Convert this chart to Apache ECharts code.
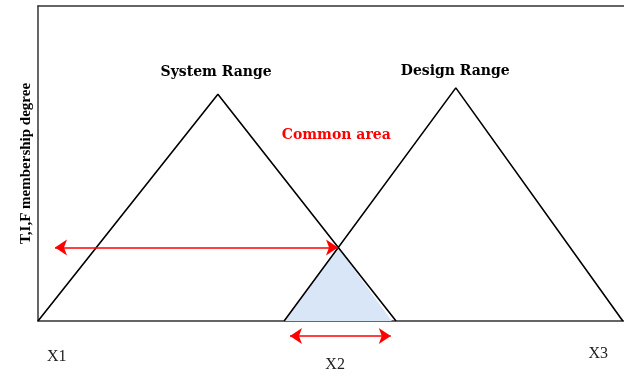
<!DOCTYPE html>
<html>
<head>
<meta charset="utf-8">
<script src="https://cdn.jsdelivr.net/npm/echarts@6/dist/echarts.min.js"></script>
<style>
  html, body { margin: 0; padding: 0; background: #fff; }
  #main { width: 624px; height: 376px; }
</style>
</head>
<body>
<div id="main"></div>
<script>
// triangle vertices, x on 0..100, membership on 0..1
const systemRange = [[0, 0], [30.7, 0.72], [61.1, 0]];
const designRange = [[42.0, 0], [71.3, 0.74], [99.8, 0]];
const commonArea = [[42.0, 0], [51.2, 0.233], [60.4, 0]];
const crossArrow = [[2.9, 0.233], [51.2, 0.233]];
const spanArrow = [[43.0, -0.048], [60.2, -0.048]];

const rangeLabels = [
  { name: 'System Range', value: [30.4, 0.79] },
  { name: 'Design Range', value: [71.2, 0.794] }
];
const areaLabel = [{ name: 'Common area', value: [50.9, 0.59] }];
const xLabels = [
  { name: 'X1', value: [3.2, -0.114] },
  { name: 'X2', value: [50.7, -0.14] },
  { name: 'X3', value: [95.6, -0.105] }
];

const myChart = echarts.init(document.getElementById('main'));

const triangle = (data) => ({
  type: 'line',
  data: data,
  symbol: 'none',
  silent: true,
  lineStyle: { color: '#000', width: 1.6 },
  z: 3
});

const arrow = (data) => ({
  type: 'lines',
  coordinateSystem: 'cartesian2d',
  clip: false,
  silent: true,
  symbol: ['arrow', 'arrow'],
  symbolSize: 12,
  lineStyle: { color: '#f00', width: 1.5, opacity: 1 },
  data: [{ coords: data }],
  z: 4
});

const textMarks = (data, font) => ({
  type: 'scatter',
  data: data,
  symbolSize: 0,
  clip: false,
  silent: true,
  itemStyle: { opacity: 1 },
  label: Object.assign({
    show: true,
    position: 'inside',
    formatter: '{b}',
    textBorderWidth: 0,
    textBorderColor: 'transparent'
  }, font),
  z: 5
});

const frameAxis = (position) => ({
  type: 'value',
  position: position,
  min: 0,
  max: 100,
  axisLine: { show: true, onZero: false, lineStyle: { color: '#333', width: 1.5 } },
  axisTick: { show: false },
  axisLabel: { show: false },
  splitLine: { show: false }
});

myChart.setOption({
  animation: false,
  grid: {
    left: 38,
    right: 0,
    top: 6,
    bottom: 55
  },
  xAxis: [frameAxis('bottom'), frameAxis('top')],
  yAxis: {
    type: 'value',
    min: 0,
    max: 1,
    name: 'T,I,F membership degree',
    nameLocation: 'middle',
    nameRotate: 90,
    nameGap: 4,
    nameTextStyle: {
      fontFamily: 'Liberation Serif',
      fontWeight: 'bold',
      fontSize: 15,
      color: '#000'
    },
    axisLine: { show: true, onZero: false, lineStyle: { color: '#333', width: 1.5 } },
    axisTick: { show: false },
    axisLabel: { show: false },
    splitLine: { show: false }
  },
  series: [
    {
      type: 'line',
      data: commonArea,
      symbol: 'none',
      silent: true,
      lineStyle: { width: 0 },
      areaStyle: { color: '#d9e6f8', opacity: 1, origin: 'start' },
      z: 2
    },
    triangle(systemRange),
    triangle(designRange),
    arrow(crossArrow),
    arrow(spanArrow),
    textMarks(rangeLabels, {
      fontFamily: 'DejaVu Serif', fontWeight: 'bold', fontSize: 14, color: '#000'
    }),
    textMarks(areaLabel, {
      fontFamily: 'DejaVu Serif', fontWeight: 'bold', fontSize: 14, color: '#ff0000'
    }),
    textMarks(xLabels, {
      fontFamily: 'Liberation Serif', fontSize: 16, color: '#222'
    })
  ]
});
</script>
</body>
</html>
